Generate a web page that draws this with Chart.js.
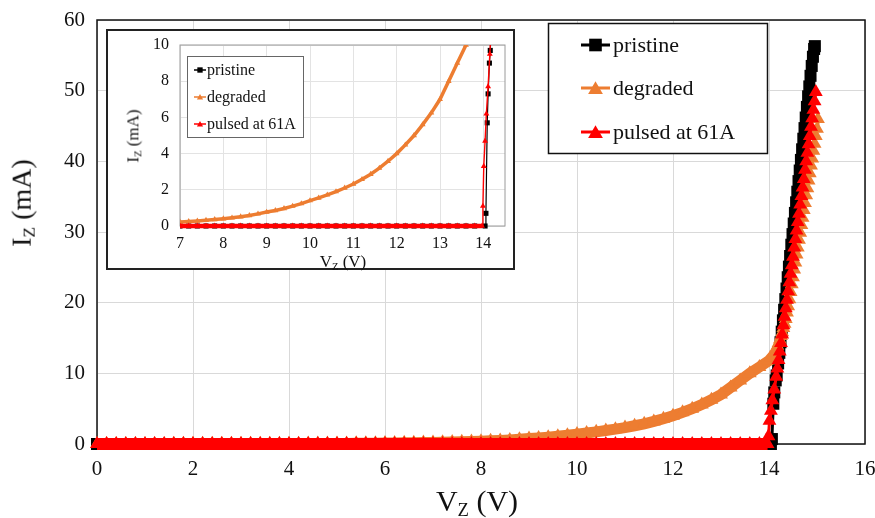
<!DOCTYPE html>
<html>
<head>
<meta charset="utf-8">
<script src="https://cdn.jsdelivr.net/npm/chart.js@4.4.0/dist/chart.umd.min.js"></script>
<style>
  html, body { margin:0; padding:0; background:#fff; }
  #wrap { position:relative; width:875px; height:518px; overflow:hidden; font-family:"Liberation Serif","Times New Roman",serif; color:#111; }
  #main { position:absolute; left:0; top:0; }
  #insetBox { position:absolute; left:106px; top:29px; width:409px; height:241px; box-sizing:border-box; border:2px solid #222; background:#fff; }
  #inset { display:block; }
  .ttl { position:absolute; white-space:nowrap; line-height:1; transform:translate(-50%,-50%); }
  .ttl sub { font-size:0.62em; vertical-align:-0.25em; }
  .rot { transform:translate(-50%,-50%) rotate(-90deg); }
</style>
</head>
<body>
<div id="wrap">
  <canvas id="main" width="875" height="518"></canvas>
  <div id="insetBox"><canvas id="inset" width="405" height="237"></canvas></div>
  <div class="ttl" style="left:477px;top:503px;font-size:30px">V<sub>Z</sub> (V)</div>
  <div class="ttl rot" style="left:23px;top:203px;font-size:28px">I<sub>Z</sub> (mA)</div>
  <div class="ttl" style="left:343px;top:263px;font-size:17px">V<sub>Z</sub> (V)</div>
  <div class="ttl rot" style="left:134px;top:136px;font-size:17px">I<sub>Z</sub> (mA)</div>
</div>
<script>
/* Zener I-V: pristine · degraded · pulsed at 61A, main plot + 7..14.5 V inset */

const SERIF = '"Liberation Serif","Times New Roman",serif';
const LABELS = ["pristine", "degraded", "pulsed at 61A"];
const COLORS = { pristine:"#000000", degraded:"#ED7D31", pulsed:"#FF0000" };

// shared voltage grid for the low-current part (V)
const V_GRID = [
  0,0.2,0.4,0.6,0.8,1.0,1.2,1.4,1.6,1.8,2.0,2.2,2.4,2.6,2.8,3.0,3.2,3.4,3.6,3.8,
  4.0,4.2,4.4,4.6,4.8,5.0,5.2,5.4,5.6,5.8,6.0,6.2,6.4,6.6,6.8,7.0,7.2,7.4,7.6,7.8,
  8.0,8.2,8.4,8.6,8.8,9.0,9.2,9.4,9.6,9.8,10.0,10.2,10.4,10.6,10.8,11.0,11.2,11.4,11.6,11.8,
  12.0,12.2,12.4,12.6,12.8,13.0,13.2,13.4,13.6,13.8,14.0
];

// degraded leakage current on V_GRID (mA)
const DEGRADED_I = [
  0.00,0.00,0.01,0.01,0.01,0.01,0.01,0.01,0.02,0.02,0.02,0.02,0.02,0.03,0.03,0.03,0.03,0.04,0.04,0.04,
  0.05,0.05,0.06,0.06,0.07,0.08,0.08,0.09,0.10,0.11,0.13,0.14,0.16,0.18,0.20,0.22,0.25,0.28,0.32,0.36,
  0.40,0.45,0.51,0.58,0.67,0.77,0.86,0.97,1.10,1.24,1.40,1.55,1.72,1.90,2.10,2.32,2.58,2.86,3.20,3.58,
  4.00,4.48,5.00,5.60,6.25,7.00,8.00,9.00,10.0,10.9,11.8
];
const DEGRADED_KNEE_V = [14.05,14.1,14.125,14.15,14.175,14.2,14.225,14.25,14.275,14.3,14.325,14.35,14.375,14.4,14.425,14.45,14.475,14.5,14.525,14.55,14.575,14.6,14.625,14.65,14.675,14.7,14.725,14.75,14.775,14.8,14.825,14.85,14.875,14.9,14.925,14.95,14.975,15.0,15.02];
const DEGRADED_KNEE_I = [12.2,12.6,13.0,13.5,13.9,14.3,14.8,15.3,15.8,16.4,17.0,17.7,18.6,19.5,20.5,21.5,22.6,23.6,24.7,25.7,26.8,27.8,28.9,29.9,31.0,32.0,33.1,34.1,35.2,36.2,37.3,38.3,39.4,40.4,41.5,42.5,43.6,44.6,46.0];

// pristine: flat at 0 on V_GRID up to 13.8 V, then breakdown
const PRISTINE_FLAT_I = [
  0,0,0,0,0,0,0,0,0,0,0,0,0,0,0,0,0,0,0,0,0,0,0,0,0,0,0,0,0,0,0,0,0,0,0,
  0,0,0,0,0,0,0,0,0,0,0,0,0,0,0,0,0,0,0,0,0,0,0,0,0,0,0,0,0,0,0,0,0,0,0
];
const PRISTINE_RISE_V = [14.04,14.06,14.09,14.11,14.14,14.16,14.19,14.215,14.24,14.265,14.29,14.315,14.34,14.365,14.39,14.415,14.44,14.465,14.49,14.515,14.54,14.565,14.59,14.615,14.64,14.665,14.69,14.715,14.74,14.765,14.79,14.815,14.84,14.865,14.89,14.915,14.94,14.955];
const PRISTINE_RISE_I = [0,0.7,5.7,7.3,9.0,9.7,11.4,12.9,14.4,15.9,17.5,19.0,20.5,22.0,23.6,25.1,26.6,28.2,29.7,31.2,32.7,34.2,35.7,37.2,38.7,40.2,41.7,43.2,44.7,46.2,47.7,49.2,50.6,52.1,53.5,54.8,55.9,56.3];

// pulsed at 61A: flat at 0 on V_GRID up to 13.8 V, then breakdown
const PULSED_FLAT_I = [
  0,0,0,0,0,0,0,0,0,0,0,0,0,0,0,0,0,0,0,0,0,0,0,0,0,0,0,0,0,0,0,0,0,0,0,
  0,0,0,0,0,0,0,0,0,0,0,0,0,0,0,0,0,0,0,0,0,0,0,0,0,0,0,0,0,0,0,0,0,0,0
];
const PULSED_RISE_V = [13.97,13.99,14.01,14.04,14.07,14.11,14.15,14.175,14.2,14.225,14.25,14.275,14.3,14.325,14.35,14.375,14.4,14.425,14.45,14.475,14.5,14.525,14.55,14.575,14.6,14.625,14.65,14.675,14.7,14.725,14.75,14.775,14.8,14.825,14.85,14.875,14.9,14.925,14.95,14.975];
const PULSED_RISE_I = [0,1.1,3.3,4.7,6.2,7.7,9.5,10.7,11.9,13.1,14.3,15.5,16.8,18.0,19.2,20.4,21.6,22.9,24.1,25.3,26.5,27.8,29.0,30.2,31.4,32.6,33.9,35.1,36.3,37.5,38.8,40.0,41.2,42.4,43.6,44.9,46.1,47.3,48.5,49.8];

// axis ticks
const MAIN_X_TICKS = { min:0, max:16, step:2 };
const MAIN_Y_TICKS = { min:0, max:60, step:10 };
const INSET_X_TICKS = { min:7, max:14.5, step:1 };
const INSET_Y_TICKS = { min:0, max:10, step:2 };

function pts(xs, ys){ return ys.map((y,i)=>({x:xs[i], y})); }
const pristinePts = pts(V_GRID, PRISTINE_FLAT_I).concat(pts(PRISTINE_RISE_V, PRISTINE_RISE_I));
const degradedPts = pts(V_GRID, DEGRADED_I).concat(pts(DEGRADED_KNEE_V, DEGRADED_KNEE_I));
const pulsedPts   = pts(V_GRID, PULSED_FLAT_I).concat(pts(PULSED_RISE_V, PULSED_RISE_I));

function marker(ctx, style, x, y, r){
  ctx.beginPath();
  if (style === "rect"){
    const s = Math.SQRT1_2 * r;
    ctx.rect(x - s, y - s, 2*s, 2*s);
  } else {
    ctx.moveTo(x, y - r);
    ctx.lineTo(x + 0.866*r, y + r/2);
    ctx.lineTo(x - 0.866*r, y + r/2);
    ctx.closePath();
  }
  ctx.fill();
}

// plot-area frame, drawn under the data
const framePlugin = {
  id:"frame",
  beforeDatasetsDraw(chart, args, o){
    const a = chart.chartArea, ctx = chart.ctx;
    ctx.save();
    ctx.strokeStyle = o.color; ctx.lineWidth = o.width;
    ctx.strokeRect(a.left, a.top, a.right - a.left, a.bottom - a.top);
    ctx.restore();
  }
};

// boxed legend placed inside the plot
const boxLegendPlugin = {
  id:"boxLegend",
  afterDraw(chart, args, o){
    const ctx = chart.ctx, b = o.box;
    ctx.save();
    ctx.fillStyle = "#fff";
    ctx.fillRect(b.x, b.y, b.w, b.h);
    ctx.strokeStyle = o.border; ctx.lineWidth = o.borderWidth;
    ctx.strokeRect(b.x, b.y, b.w, b.h);
    chart.data.datasets.forEach((ds, i)=>{
      const y = o.rows[i];
      ctx.strokeStyle = ds.borderColor; ctx.lineWidth = o.lineWidth;
      ctx.beginPath(); ctx.moveTo(o.lineX0, y); ctx.lineTo(o.lineX1, y); ctx.stroke();
      ctx.fillStyle = ds.backgroundColor;
      marker(ctx, ds.pointStyle, (o.lineX0 + o.lineX1)/2, y + (ds.pointStyle === "rect" ? 0 : o.markerR*0.2), ds.pointStyle === "rect" ? o.markerR*1.05 : o.markerR);
      ctx.fillStyle = "#111";
      ctx.font = o.font + "px " + SERIF;
      ctx.textBaseline = "middle";
      ctx.fillText(ds.label, o.textX, y + 1);
    });
    ctx.restore();
  }
};

// w: {flat, steep} line widths per series; flat = both ends near 0 mA (degraded: below knee)
function datasets(sq, tri, w, clip){
  const seg = (flat, steep, lim) => ({ borderWidth: c => (c.p1.parsed.y < lim ? flat : steep) });
  return [
    { label:LABELS[0], data:pristinePts, order:3, borderColor:COLORS.pristine, backgroundColor:COLORS.pristine,
      pointStyle:"rect", pointRadius:sq, pointBorderWidth:0, borderWidth:w.pristine[1], showLine:true,
      segment: seg(w.pristine[0], w.pristine[1], 0.3), clip },
    { label:LABELS[1], data:degradedPts, order:2, borderColor:COLORS.degraded, backgroundColor:COLORS.degraded,
      pointStyle:"triangle", pointRadius:tri, pointBorderWidth:0, borderWidth:w.degraded[1], showLine:true,
      segment: seg(w.degraded[0], w.degraded[1], 13.2), clip },
    { label:LABELS[2], data:pulsedPts, order:1, borderColor:COLORS.pulsed, backgroundColor:COLORS.pulsed,
      pointStyle:"triangle", pointRadius:tri, pointBorderWidth:0, borderWidth:w.pulsed[1], showLine:true,
      segment: seg(w.pulsed[0], w.pulsed[1], 0.3), clip },
  ];
}

function axes(xt, yt, size, gridColor, xh, yw, xpad, ypad){
  const tickFont = { family:SERIF, size };
  const noPad = (s) => { s.paddingLeft = 0; s.paddingRight = 0; s.paddingTop = 0; s.paddingBottom = 0; };
  return {
    x:{ type:"linear", min:xt.min, max:xt.max,
        ticks:{ stepSize:xt.step, includeBounds:false, font:tickFont, color:"#111", padding:xpad, maxRotation:0 },
        grid:{ color:gridColor, lineWidth:1, drawTicks:false }, border:{ display:false },
        afterFit:(s)=>{ s.height = xh; noPad(s); } },
    y:{ type:"linear", min:yt.min, max:yt.max,
        ticks:{ stepSize:yt.step, includeBounds:false, font:tickFont, color:"#111", padding:ypad },
        grid:{ color:gridColor, lineWidth:1, drawTicks:false }, border:{ display:false },
        afterFit:(s)=>{ s.width = yw; noPad(s); } }
  };
}

new Chart(document.getElementById("main"), {
  type:"scatter",
  data:{ datasets: datasets(8.5, 8, { pristine:[12,3], degraded:[11,3], pulsed:[12,3] }, 10) },
  options:{
    responsive:false, animation:false, events:[],
    layout:{ padding:{ top:20, right:10, left:0, bottom:0 } },
    elements:{ line:{ tension:0 } },
    scales: axes(MAIN_X_TICKS, MAIN_Y_TICKS, 21, "#d9d9d9", 74, 97, 13, 12),
    plugins:{
      legend:{ display:false }, tooltip:{ enabled:false },
      frame:{ color:"#111", width:1.5 },
      boxLegend:{ box:{ x:548.5, y:23.5, w:219, h:130 }, border:"#111", borderWidth:1.5,
        rows:[45, 88, 132], lineX0:581, lineX1:610, lineWidth:3, markerR:8.5, textX:613, font:22 }
    }
  },
  plugins:[framePlugin, boxLegendPlugin]
});

new Chart(document.getElementById("inset"), {
  type:"scatter",
  data:{ datasets: datasets(3.6, 3.4, { pristine:[3,1.2], degraded:[3.5,3.5], pulsed:[4.5,1.4] },
                            { left:0, right:0, top:0, bottom:4 }) },
  options:{
    responsive:false, animation:false, events:[],
    layout:{ padding:{ top:14, right:8, left:0, bottom:0 } },
    elements:{ line:{ tension:0 } },
    scales: axes(INSET_X_TICKS, INSET_Y_TICKS, 16, "#e3e3e3", 42, 72, 8, 11),
    plugins:{
      legend:{ display:false }, tooltip:{ enabled:false },
      frame:{ color:"#9a9a9a", width:1 },
      boxLegend:{ box:{ x:79.5, y:25.5, w:116, h:81 }, border:"#666", borderWidth:1,
        rows:[39, 66, 93], lineX0:86, lineX1:98, lineWidth:1.5, markerR:3.6, textX:99, font:16 }
    }
  },
  plugins:[framePlugin, boxLegendPlugin]
});
</script>
</body>
</html>
